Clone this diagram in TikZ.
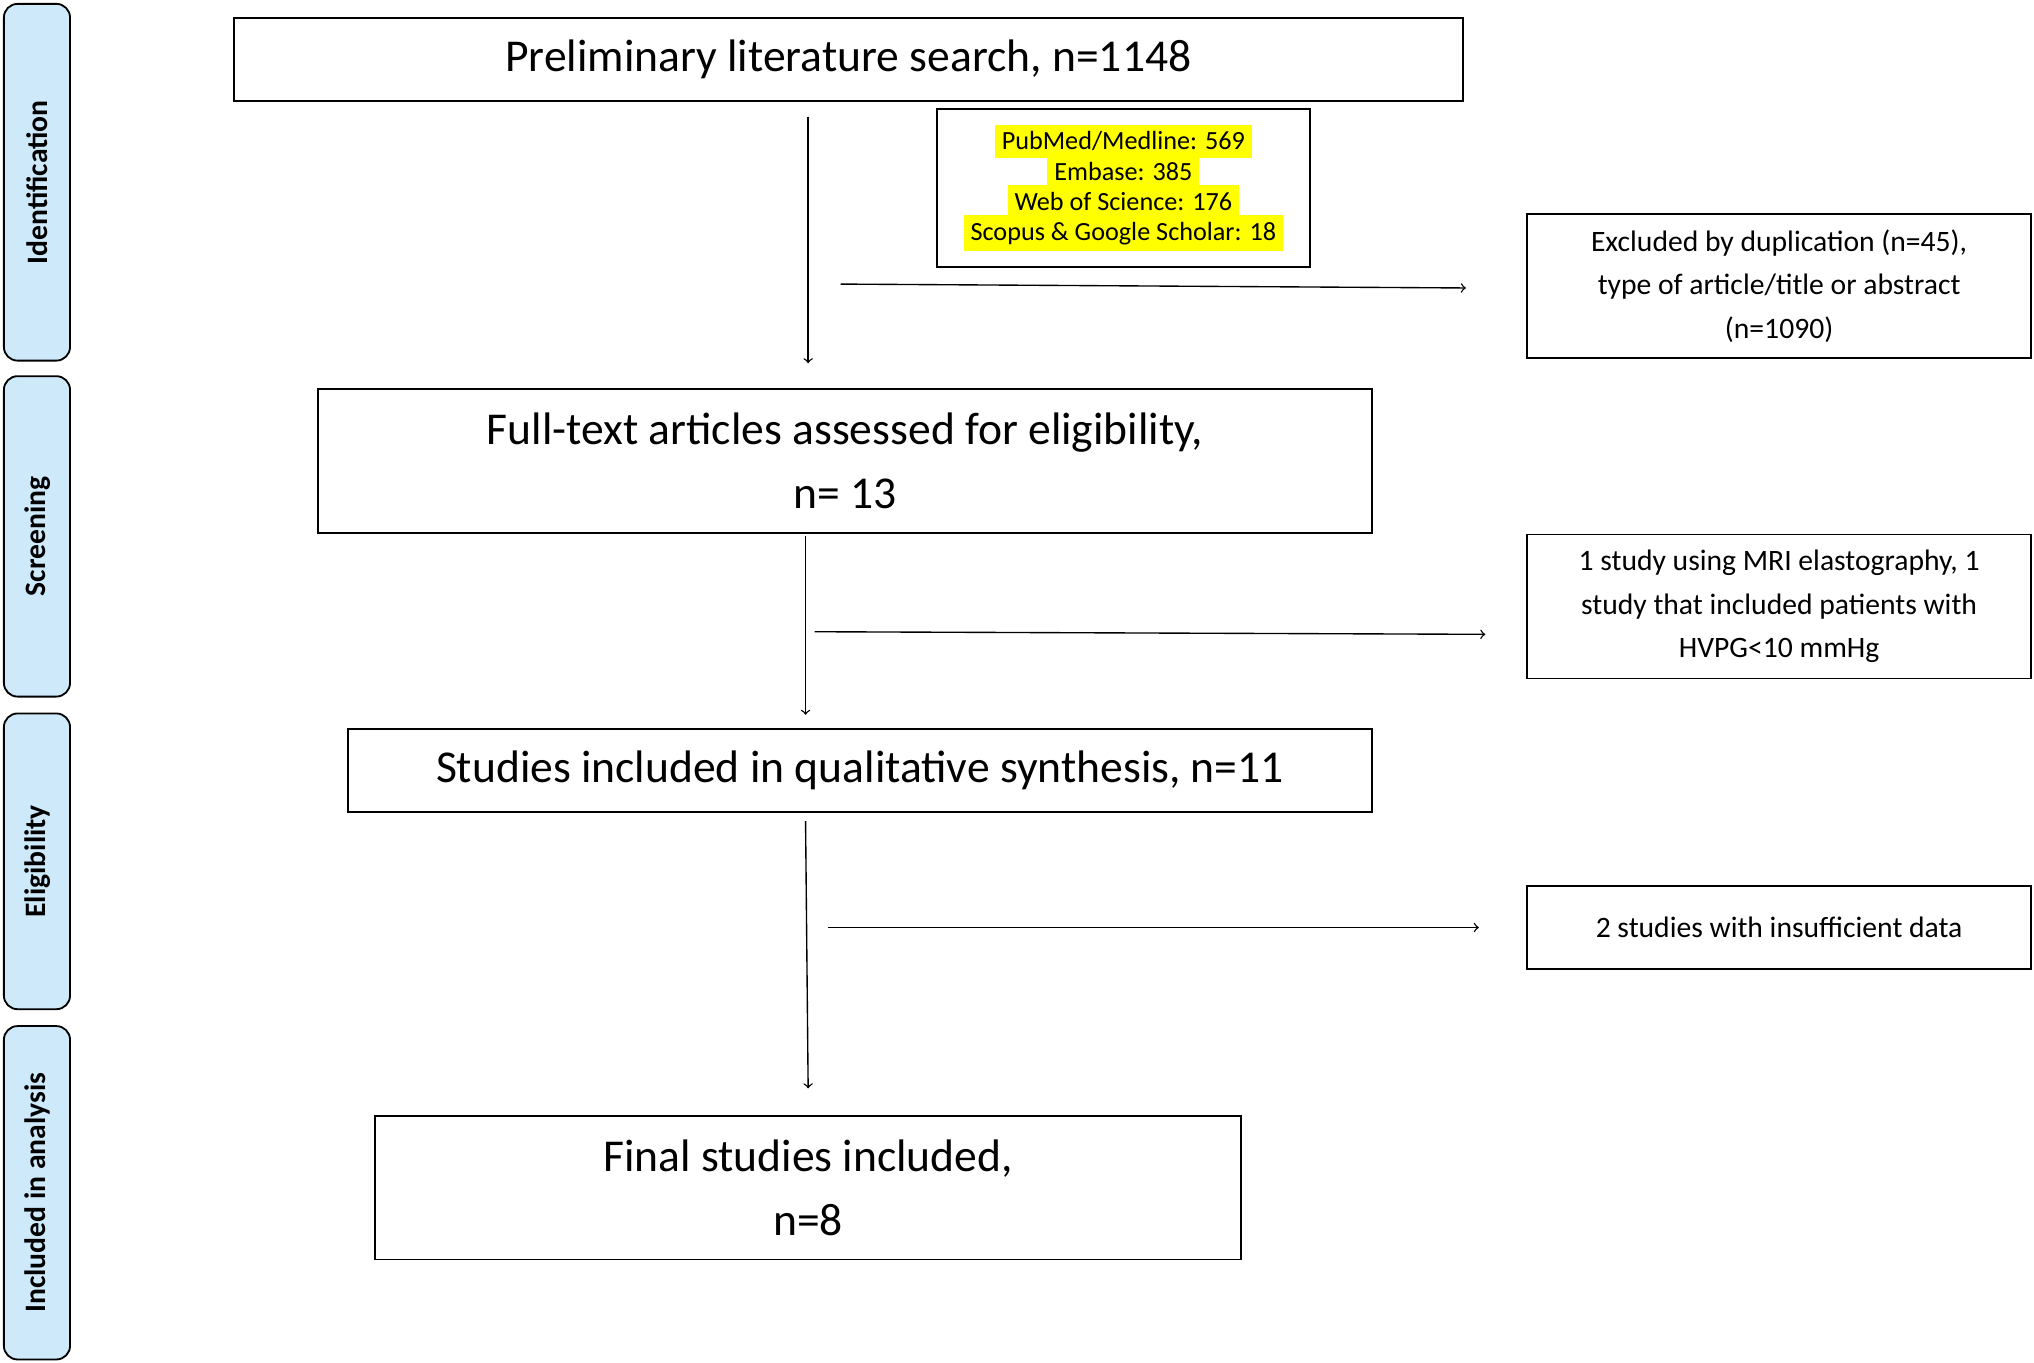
\documentclass[tikz,border=0pt]{standalone}
\usepackage{fontspec}
\setmainfont{Carlito}
\usetikzlibrary{arrows,positioning}
\definecolor{stageblue}{HTML}{CDE9FA}
\definecolor{hiyellow}{HTML}{FFFF00}
\tikzset{
    flowbox/.style={
           rectangle,
           draw=black, thick,
           align=center,
           font=\fontsize{20}{28}\selectfont,
           },
    excl/.style={
           rectangle,
           draw=black, thick,
           align=center,
           font=\fontsize{13}{19}\selectfont,
           },
    stage/.style={
           rectangle,
           rounded corners=6pt,
           draw=black, thick,
           fill=stageblue,
           },
    pil/.style={
           ->,
           semithick,
           },
}
\newcommand{\hl}[1]{\colorbox{hiyellow}{#1}}
\begin{document}
\begin{tikzpicture}[x=0.02cm,y=-0.02cm,>=to]
\useasboundingbox (0,0) rectangle (1568,1050);
% stages
\foreach \name/\ya/\yb/\txt in {sid/3/278/Identification, ssc/290/537/Screening, sel/550/778/Eligibility, sin/791/1048/Included in analysis}{
  \draw[stage] (3,\ya) rectangle (54,\yb);
  \node[rotate=90,font=\bfseries\fontsize{13}{15}\selectfont] (\name) at (29,{(\ya+\yb)/2}) {\txt};
}
% main boxes
\node[flowbox,minimum width=18.96cm,minimum height=1.28cm] (search) at (654,46) {Preliminary literature search, n=1148};
\node[draw=black,thick,minimum width=5.76cm,minimum height=2.44cm,align=center,inner sep=0pt,
      font=\fontsize{11.5}{14}\selectfont] (db) at (866,145)
      {\hl{PubMed/Medline: 569}\\[-2pt]\hl{Embase: 385}\\[-2pt]\hl{Web of Science: 176}\\[-2pt]\hl{Scopus \& Google Scholar: 18}};
\node[flowbox,minimum width=16.26cm,minimum height=2.22cm] (full) at (651.5,355.5) {Full-text articles assessed for eligibility,\\ n= 13};
\node[flowbox,minimum width=15.8cm,minimum height=1.28cm] (qual) at (663,594) {Studies included in qualitative synthesis, n=11};
\node[flowbox,minimum width=13.36cm,minimum height=2.22cm] (final) at (623,915.5) {Final studies included,\\ n=8};
% excluded boxes
\node[excl,minimum width=7.78cm,minimum height=2.22cm] (ex1) at (1371.5,220.5) {Excluded by duplication (n=45),\\ type of article/title or abstract\\ (n=1090)};
\node[excl,minimum width=7.78cm,minimum height=2.22cm] (ex2) at (1371.5,467.5) {1 study using MRI elastography, 1\\ study that included patients with\\ HVPG<10 mmHg};
\node[excl,minimum width=7.78cm,minimum height=1.28cm] (ex3) at (1371.5,715) {2 studies with insufficient data};
% arrows
\coordinate (a1s) at (623,90);  \coordinate (a1e) at (623,280);
\coordinate (b1s) at (648,219); \coordinate (b1e) at (1130,222);
\coordinate (a2s) at (621,413); \coordinate (a2e) at (621,551);
\coordinate (b2s) at (628,487); \coordinate (b2e) at (1145,489);
\coordinate (a3s) at (621,633); \coordinate (a3e) at (623,839);
\coordinate (b3s) at (638,715); \coordinate (b3e) at (1140,715);
\draw[pil] (a1s) -- (a1e);
\draw[pil] (b1s) -- (b1e);
\draw[pil] (a2s) -- (a2e);
\draw[pil] (b2s) -- (b2e);
\draw[pil] (a3s) -- (a3e);
\draw[pil] (b3s) -- (b3e);
\end{tikzpicture}
\end{document}
